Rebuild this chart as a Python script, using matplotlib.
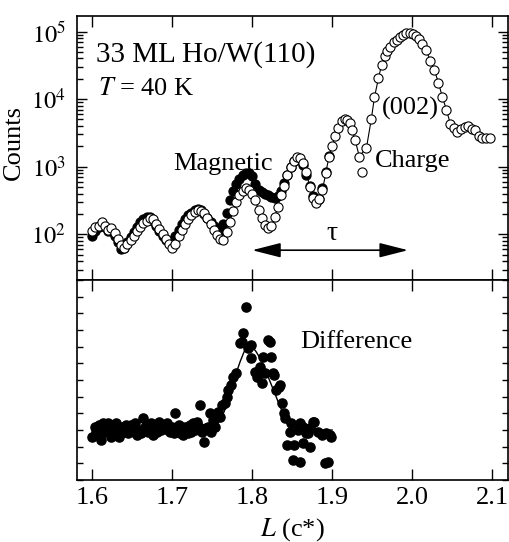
import matplotlib
matplotlib.use("Agg")
import matplotlib.pyplot as plt
from matplotlib.ticker import LogLocator, MultipleLocator, NullFormatter, FixedLocator

plt.rcParams["font.family"] = ["Liberation Serif", "DejaVu Serif"]
plt.rcParams["mathtext.fontset"] = "stix"

# ---- Charge scan (open circles) ----
charge_L = [1.600, 1.604, 1.608, 1.612, 1.616, 1.620, 1.624, 1.628, 1.632, 1.636,
            1.640, 1.644, 1.648, 1.652, 1.656, 1.660, 1.664, 1.668, 1.672, 1.676,
            1.680, 1.684, 1.688, 1.692, 1.696, 1.700, 1.704, 1.708, 1.712, 1.716,
            1.720, 1.724, 1.728, 1.732, 1.736, 1.740, 1.744, 1.748, 1.752, 1.756,
            1.760, 1.764, 1.768, 1.772, 1.776, 1.780, 1.784, 1.788, 1.792, 1.796,
            1.800, 1.804, 1.808, 1.812, 1.816, 1.820, 1.824, 1.828, 1.832, 1.836,
            1.840, 1.844, 1.848, 1.852, 1.856, 1.860, 1.864, 1.868, 1.872, 1.876,
            1.880, 1.884, 1.888, 1.892, 1.896, 1.900, 1.904, 1.908, 1.912, 1.916,
            1.919, 1.922, 1.925, 1.929, 1.934, 1.943, 1.949, 1.953, 1.958, 1.962,
            1.966, 1.969, 1.973, 1.977, 1.981, 1.985, 1.989, 1.993, 1.997, 2.001,
            2.005, 2.009, 2.013, 2.018, 2.023, 2.028, 2.033, 2.038, 2.043, 2.048,
            2.052, 2.056, 2.061, 2.066, 2.070, 2.075, 2.079, 2.084, 2.088, 2.093,
            2.097]
charge_counts = [112, 126, 132, 151, 132, 115, 123, 105, 85, 69,
                 63, 71, 83, 95, 110, 126, 145, 158, 174, 166,
                 141, 120, 100, 85, 72, 63, 72, 93, 117, 141,
                 166, 191, 214, 229, 224, 204, 174, 141, 115, 98,
                 85, 83, 107, 151, 219, 302, 380, 437, 479, 457,
                 398, 316, 229, 174, 138, 123, 132, 178, 251, 380,
                 525, 741, 1000, 1230, 1380, 1350, 1120, 832, 501, 339,
                 288, 331, 447, 794, 1380, 2000, 2820, 3800, 4790, 5130,
                 4900, 4370, 3470, 2450, 1410, 1910, 5010, 10700, 20400, 32400,
                 43600, 51300, 58900, 69200, 75900, 83200, 89100, 95500, 95500, 91200,
                 85100, 77600, 66100, 52500, 36300, 26900, 17400, 10700, 6920, 4270,
                 3720, 3240, 3630, 3890, 3980, 3630, 3470, 2880, 2690, 2630,
                 2630]
# single isolated reading near L = 1.938
charge_extra_L = [1.938]
charge_extra_counts = [832]

# ---- Magnetic scan (filled circles) ----
magnetic_L = [1.600, 1.604, 1.608, 1.612, 1.616, 1.620, 1.624, 1.628, 1.632, 1.636,
              1.640, 1.644, 1.648, 1.652, 1.656, 1.660, 1.664, 1.668, 1.672, 1.676,
              1.680, 1.684, 1.688, 1.692, 1.696, 1.700, 1.704, 1.708, 1.712, 1.716,
              1.720, 1.724, 1.728, 1.732, 1.736, 1.740, 1.744, 1.748, 1.752, 1.756,
              1.760, 1.764, 1.768, 1.772, 1.776, 1.780, 1.784, 1.788, 1.792, 1.796,
              1.800, 1.804, 1.808, 1.812, 1.816, 1.820, 1.824, 1.828, 1.832, 1.836,
              1.840, 1.844, 1.848, 1.852, 1.856, 1.860, 1.864, 1.868, 1.872, 1.876,
              1.880, 1.884, 1.888, 1.892, 1.896]
magnetic_counts = [95, 112, 126, 138, 126, 110, 112, 95, 76, 60,
                   63, 76, 91, 107, 126, 151, 166, 178, 182, 158,
                   132, 110, 93, 83, 76, 79, 95, 115, 141, 166,
                   191, 209, 229, 240, 229, 200, 174, 151, 132, 120,
                   115, 141, 209, 316, 437, 550, 661, 741, 794, 794,
                   724, 562, 457, 417, 398, 380, 355, 347, 363, 437,
                   575, 759, 1000, 1200, 1320, 1260, 1050, 759, 525, 363,
                   302, 331, 479, 832, 1450]

# ---- Difference (filled circles) and fitted curve ----
diff_L = [1.600, 1.603, 1.605, 1.608, 1.611, 1.613, 1.615, 1.618, 1.620, 1.622,
          1.624, 1.626, 1.628, 1.630, 1.633, 1.635, 1.637, 1.640, 1.642, 1.645,
          1.647, 1.649, 1.652, 1.654, 1.656, 1.658, 1.661, 1.663, 1.666, 1.668,
          1.670, 1.672, 1.674, 1.676, 1.678, 1.681, 1.683, 1.686, 1.688, 1.691,
          1.693, 1.695, 1.697, 1.700, 1.702, 1.703, 1.706, 1.708, 1.710, 1.712,
          1.714, 1.716, 1.718, 1.720, 1.722, 1.724, 1.726, 1.728, 1.731, 1.733,
          1.735, 1.737, 1.740, 1.742, 1.745, 1.747, 1.749, 1.751, 1.753, 1.757,
          1.760, 1.762, 1.766, 1.768, 1.770, 1.774, 1.776, 1.780, 1.785, 1.787,
          1.789, 1.792, 1.795, 1.798, 1.799, 1.803, 1.806, 1.808, 1.810, 1.812,
          1.814, 1.816, 1.820, 1.822, 1.824, 1.826, 1.827, 1.830, 1.833, 1.835,
          1.837, 1.840, 1.841, 1.843, 1.847, 1.849, 1.851, 1.853, 1.857, 1.860,
          1.860, 1.864, 1.864, 1.868, 1.870, 1.872, 1.872, 1.876, 1.878, 1.883,
          1.887, 1.891, 1.893, 1.895, 1.897, 1.899]
diff_val = [2.6, 3.2, 2.9, 3.3, 2.4, 3.4, 2.9, 3.1, 3.4, 2.9,
            2.6, 3.3, 3.0, 3.4, 2.6, 3.0, 3.2, 2.9, 3.3, 2.8,
            3.1, 3.3, 2.9, 3.4, 2.7, 3.0, 2.8, 3.7, 3.2, 3.3,
            2.9, 3.0, 3.4, 2.7, 3.2, 2.9, 3.5, 3.0, 3.3, 3.1,
            3.4, 3.0, 2.9, 3.2, 2.8, 4.0, 3.2, 3.3, 2.8, 3.0,
            2.7, 3.2, 3.1, 2.8, 3.3, 2.9, 3.4, 3.0, 3.5, 3.2,
            4.5, 2.9, 2.3, 3.1, 3.2, 4.0, 2.9, 3.6, 3.2, 4.1,
            3.8, 4.5, 4.6, 5.0, 5.4, 5.7, 6.2, 6.4, 8.2, 8.3,
            8.8, 10.4, 7.9, 8.1, 7.3, 6.5, 6.2, 6.4, 6.8, 5.8,
            7.4, 6.4, 8.4, 8.3, 7.4, 6.4, 6.3, 5.4, 5.6, 5.7,
            4.6, 4.0, 3.7, 2.1, 2.9, 3.4, 1.2, 2.1, 3.0, 3.4,
            1.1, 3.2, 2.2, 2.8, 2.8, 2.0, 3.1, 3.5, 3.5, 2.9,
            2.7, 1.0, 2.8, 1.1, 2.7, 2.6]

fit_L = [1.600, 1.750, 1.755, 1.760, 1.765, 1.770, 1.775, 1.780, 1.785, 1.790,
         1.795, 1.800, 1.805, 1.810, 1.815, 1.820, 1.825, 1.830, 1.835, 1.840,
         1.845, 1.850, 1.860, 1.900]
fit_val = [3.0, 3.0, 3.2, 3.6, 4.1, 4.8, 5.6, 6.4, 7.1, 7.7,
           8.0, 8.0, 7.7, 7.3, 6.8, 6.2, 5.6, 5.0, 4.4, 3.9,
           3.5, 3.2, 3.0, 3.0]

x_ticks = [1.6, 1.7, 1.8, 1.9, 2.0, 2.1]
x_tick_labels = ["1.6", "1.7", "1.8", "1.9", "2.0", "2.1"]

fig = plt.figure(figsize=(5.09, 5.42), dpi=100)
W, H = 509, 542
x0, x1 = 77, 508
ax1 = fig.add_axes([x0 / W, 1 - 280 / H, (x1 - x0) / W, 264 / H])
ax2 = fig.add_axes([x0 / W, 1 - 480 / H, (x1 - x0) / W, 200 / H], sharex=ax1)

MS = 6.6
# upper panel
ax1.plot(magnetic_L, magnetic_counts, "o", ms=MS, mfc="black", mec="black",
         mew=0.8, zorder=2)
ax1.plot(charge_L, charge_counts, "-", color="black", lw=0.8, zorder=3)
ax1.plot(charge_L, charge_counts, "o", ms=MS, mfc="white", mec="black",
         mew=0.8, zorder=4)
ax1.plot(charge_extra_L, charge_extra_counts, "o", ms=MS, mfc="white",
         mec="black", mew=0.8, zorder=4)
ax1.set_yscale("log")
ax1.set_ylim(21, 1.7e5)
ax1.set_xlim(1.581, 2.120)
ax1.yaxis.set_major_locator(FixedLocator([1e2, 1e3, 1e4, 1e5]))
ax1.yaxis.set_minor_locator(LogLocator(base=10, subs=range(2, 10)))
ax1.yaxis.set_minor_formatter(NullFormatter())
ax1.set_yticklabels([r"$10^2$", r"$10^3$", r"$10^4$", r"$10^5$"])
ax1.set_ylabel("Counts", fontsize=19)
ax1.yaxis.set_label_coords(-0.12, 0.52)

ax1.text(0.044, 0.826, "33 ML Ho/W(110)", transform=ax1.transAxes, fontsize=21)
ax1.text(0.048, 0.70, r"$T$ = 40 K", transform=ax1.transAxes, fontsize=19)
ax1.text(0.223, 0.417, "Magnetic", transform=ax1.transAxes, fontsize=19)
ax1.text(0.691, 0.428, "Charge", transform=ax1.transAxes, fontsize=19)
ax1.text(0.708, 0.625, "(002)", transform=ax1.transAxes, fontsize=19)

ax1.annotate("", xy=(1.995, 58), xytext=(1.800, 58),
             arrowprops=dict(arrowstyle="<|-|>,head_length=1.1,head_width=0.28",
                             color="black", lw=1.2, mutation_scale=16,
                             shrinkA=0, shrinkB=0))
ax1.text(1.9, 104, "τ", ha="center", va="center", fontsize=20)

# lower panel
ax2.plot(fit_L, fit_val, "-", color="black", lw=1.0, zorder=2)
ax2.plot(diff_L, diff_val, "o", ms=MS, mfc="black", mec="black", zorder=3)
ax2.set_ylim(0, 12)
ax2.yaxis.set_major_locator(MultipleLocator(1))
ax2.yaxis.set_major_formatter(NullFormatter())
ax2.text(0.517, 0.66, "Difference", transform=ax2.transAxes, fontsize=19)

ax2.set_xticks(x_ticks)
ax2.set_xticklabels(x_tick_labels)
ax2.set_xlabel(r"$L$ (c*)", fontsize=19, labelpad=5)

for ax in (ax1, ax2):
    for s in ax.spines.values():
        s.set_linewidth(1.2)
    ax.tick_params(which="both", direction="in", top=True, right=True,
                   labelsize=19, width=1.0)
    ax.tick_params(which="major", length=8)
    ax.tick_params(which="minor", length=4)
ax1.tick_params(axis="x", labelbottom=False)
ax1.tick_params(axis="y", which="major", length=7, pad=8, labelsize=17.5)
ax2.tick_params(axis="y", which="major", length=4)
ax2.tick_params(axis="x", pad=5)

fig.savefig("out.png", dpi=100)
